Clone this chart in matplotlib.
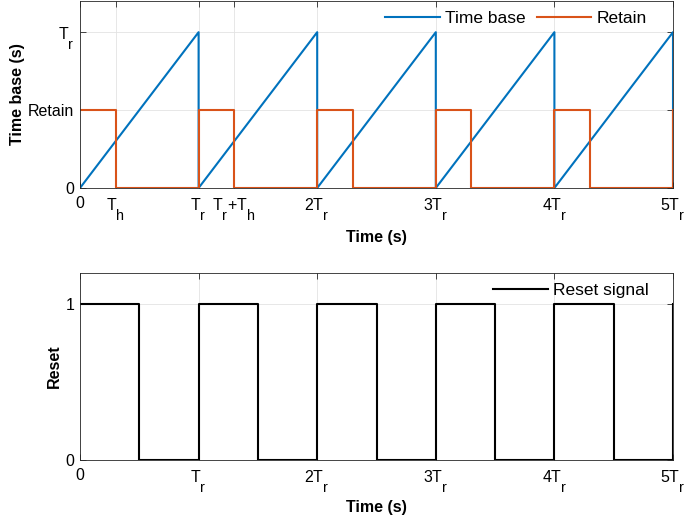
import matplotlib
matplotlib.use("Agg")
import matplotlib.pyplot as plt

plt.rcParams['font.family'] = ['Liberation Sans', 'DejaVu Sans']
plt.rcParams['mathtext.fontset'] = 'custom'
plt.rcParams['mathtext.rm'] = 'Liberation Sans'
plt.rcParams['mathtext.it'] = 'Liberation Sans'
plt.rcParams['mathtext.bf'] = 'Liberation Sans:bold'

# MATLAB-like TeX subscripts: nearly full size and dropped low
try:
    import matplotlib._mathtext as _mt
    _mt.SHRINK_FACTOR = 0.9
    _mt.FontConstantsBase.sub1 = 1.2
except Exception:
    pass

# ---- data (Tr = 1, Th = 0.3, Retain level = 0.5) ----
time_base_t = [0, 1, 1, 2, 2, 3, 3, 4, 4, 5, 5]
time_base_y = [0, 1, 0, 1, 0, 1, 0, 1, 0, 1, 0]

retain_t = [0, 0.3, 0.3, 1, 1, 1.3, 1.3, 2, 2, 2.3, 2.3, 3, 3, 3.3, 3.3,
            4, 4, 4.3, 4.3, 5, 5]
retain_y = [0.5, 0.5, 0, 0, 0.5, 0.5, 0, 0, 0.5, 0.5, 0, 0, 0.5, 0.5, 0,
            0, 0.5, 0.5, 0, 0, 0.5]

reset_t = [0, 0.5, 0.5, 1, 1, 1.5, 1.5, 2, 2, 2.5, 2.5, 3, 3, 3.5, 3.5,
           4, 4, 4.5, 4.5, 5, 5]
reset_y = [1, 1, 0, 0, 1, 1, 0, 0, 1, 1, 0, 0, 1, 1, 0,
           0, 1, 1, 0, 0, 1]

top_xticks = [0, 0.3, 1, 1.3, 2, 3, 4, 5]
top_xlabels = ['0', r'T$_\mathrm{h}$', r'T$_\mathrm{r}$', r'T$_\mathrm{r}$+T$_\mathrm{h}$',
               r'2T$_\mathrm{r}$', r'3T$_\mathrm{r}$', r'4T$_\mathrm{r}$', r'5T$_\mathrm{r}$']
top_yticks = [0, 0.5, 1]
top_ylabels = ['0', 'Retain', r'T$_\mathrm{r}$']

bot_xticks = [0, 1, 2, 3, 4, 5]
bot_xlabels = ['0', r'T$_\mathrm{r}$', r'2T$_\mathrm{r}$', r'3T$_\mathrm{r}$',
               r'4T$_\mathrm{r}$', r'5T$_\mathrm{r}$']
bot_yticks = [0, 1]
bot_ylabels = ['0', '1']

BLUE = '#0072BD'
ORANGE = '#D95319'
AXC = '#262626'

fig = plt.figure(figsize=(6.85, 5.19), dpi=100)
W, H = 685, 519
ax1 = fig.add_axes([80 / W, 1 - 188 / H, 593 / W, 187 / H])
ax2 = fig.add_axes([80 / W, 1 - 460 / H, 593 / W, 187 / H])


def style(ax):
    for s in ax.spines.values():
        s.set_color(AXC)
        s.set_linewidth(0.6)
    ax.tick_params(direction='in', length=4, width=0.6, color=AXC,
                   top=True, right=True, labelsize=11.5, labelcolor='black')
    ax.tick_params(axis='x', pad=6)
    ax.tick_params(axis='y', pad=4)
    ax.grid(True, color='#e3e3e3', linewidth=0.6)
    ax.set_axisbelow(True)
    ax.set_xlim(0, 5)
    ax.set_ylim(0, 1.2)


style(ax1)
ax1.plot(time_base_t, time_base_y, color=BLUE, lw=1.5, label='Time base')
ax1.plot(retain_t, retain_y, color=ORANGE, lw=1.5, label='Retain')
ax1.set_xticks(top_xticks)
ax1.set_xticklabels(top_xlabels)
ax1.set_yticks(top_yticks)
ax1.set_yticklabels(top_ylabels)
ax1.set_xlabel('Time (s)', fontsize=11.5, fontweight='bold')
ax1.set_ylabel('Time base (s)', fontsize=11.5, fontweight='bold')
ax1.xaxis.set_label_coords(0.5, -0.225)
ax1.yaxis.set_label_coords(-0.093, 0.5)
ax1.legend(loc='upper right', ncol=2, frameon=False, fontsize=12.5,
           handlelength=3.15, handletextpad=0.3, columnspacing=0.65,
           borderaxespad=0.15, bbox_to_anchor=(0.972, 1.0))

style(ax2)
ax2.plot(reset_t, reset_y, color='black', lw=1.5, label='Reset signal')
ax2.set_xticks(bot_xticks)
ax2.set_xticklabels(bot_xlabels)
ax2.set_yticks(bot_yticks)
ax2.set_yticklabels(bot_ylabels)
ax2.set_xlabel('Time (s)', fontsize=11.5, fontweight='bold')
ax2.set_ylabel('Reset', fontsize=11.5, fontweight='bold')
ax2.xaxis.set_label_coords(0.5, -0.215)
ax2.yaxis.set_label_coords(-0.030, 0.5)
ax2.legend(loc='upper right', frameon=False, fontsize=12.5,
           handlelength=3.15, handletextpad=0.3,
           borderaxespad=0.15, bbox_to_anchor=(0.975, 1.0))

fig.savefig('out.png', dpi=100)
